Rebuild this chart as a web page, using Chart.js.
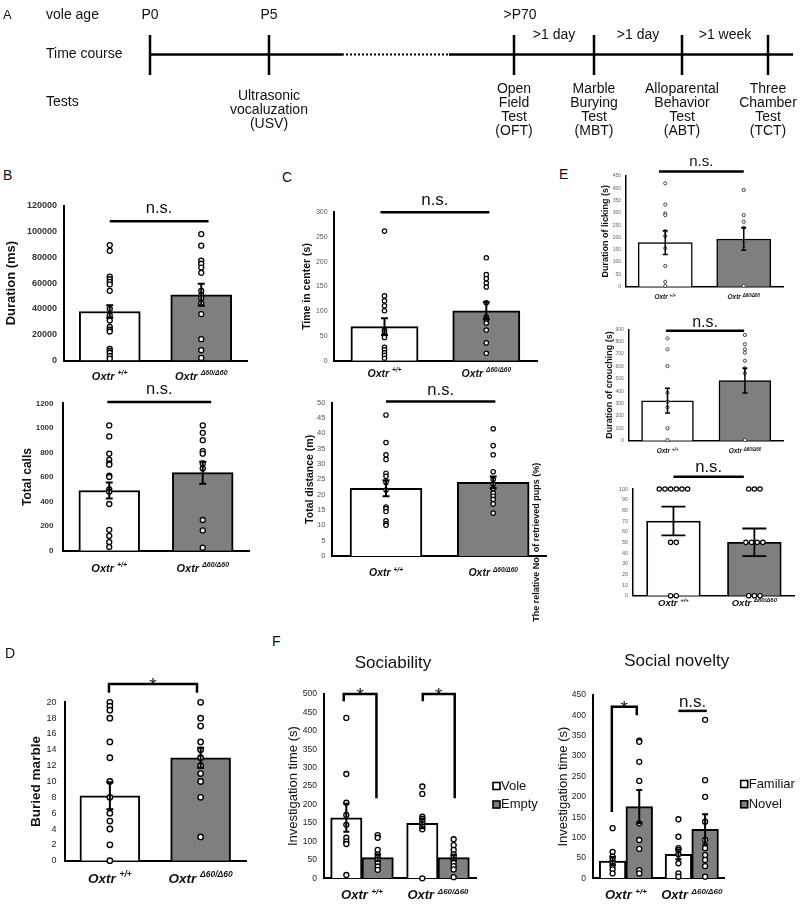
<!DOCTYPE html>
<html lang="en">
<head>
<meta charset="utf-8">
<title>Oxtr vole behaviour tests</title>
<script src="https://cdn.jsdelivr.net/npm/chart.js@4.4.1/dist/chart.umd.min.js"></script>
<style>
  body { margin: 0; background: #fff; }
  #page { position: relative; width: 800px; height: 906px; overflow: hidden;
          font-family: "Liberation Sans", Arial, sans-serif; color: #111; }
  #page canvas { position: absolute; }
  .panel { position: absolute; font-size: 14px; line-height: 14px; }
</style>
</head>
<body>
<div id="page">
  <canvas id="timeline"></canvas>
  <canvas id="bDur"></canvas>
  <canvas id="bCalls"></canvas>
  <canvas id="cCenter"></canvas>
  <canvas id="cDist"></canvas>
  <canvas id="eLick"></canvas>
  <canvas id="eCrouch"></canvas>
  <canvas id="ePups"></canvas>
  <canvas id="dMarble"></canvas>
  <canvas id="fSoc"></canvas>
  <canvas id="fNov"></canvas>
  <div class="panel" style="left:3px;top:8px;font-size:13px;line-height:13px">A</div>
  <div class="panel" style="left:3px;top:168px">B</div>
  <div class="panel" style="left:282px;top:170px">C</div>
  <div class="panel" style="left:559px;top:167px">E</div>
  <div class="panel" style="left:5px;top:646px">D</div>
  <div class="panel" style="left:272px;top:634px">F</div>
</div>
<script>
// ---------- data ----------
const groups = ['+/+', 'Δ60/Δ60'];   // Oxtr genotypes

// A: time course of the tests
const rowNames = ['vole age', 'Time course', 'Tests'];
const stageAge = ['P0', 'P5', '>P70', '', '', ''];
const stageGap = ['', '', '', '>1 day', '>1 day', '>1 week'];
const stageTests = [
  [],
  ['Ultrasonic', 'vocaluzation', '(USV)'],
  ['Open', 'Field', 'Test', '(OFT)'],
  ['Marble', 'Burying', 'Test', '(MBT)'],
  ['Alloparental', 'Behavior', 'Test', '(ABT)'],
  ['Three', 'Chamber', 'Test', '(TCT)']
];
const stagePos = [150, 269, 514, 594, 682, 768];
const axisBreak = [342, 449];
const axisEnd = 793;

// B: USV
const durMean = [38000, 51000];
const durSem = [4800, 8500];
const durWT = [89500, 85000, 65000, 63000, 61000, 59000, 54000, 40000, 35000, 31000, 26000, 24000, 22500, 9000, 7500, 6000, 3500, 1500];
const durKO = [98000, 89000, 77500, 75000, 72000, 68000, 54000, 50500, 48500, 44500, 36000, 16500, 8000, 2000];
const callsMean = [490, 635];
const callsSem = [65, 90];
const callsWT = [1020, 930, 790, 740, 710, 700, 610, 600, 500, 480, 380, 170, 120, 70, 30];
const callsKO = [1020, 960, 900, 810, 790, 710, 670, 250, 165, 25];

// C: open field
const centerMean = [69, 101];
const centerSem = [17, 17];
const centerWT = [262, 131, 121, 111, 101, 62, 58, 52, 47, 27, 22, 16, 11, 5];
const centerKO = [208, 174, 166, 157, 149, 117, 88, 84, 76, 62, 36, 15];
const distMean = [22.1, 24.0];
const distSem = [2.6, 1.9];
const distWT = [46, 37, 33, 31.5, 27, 26, 24, 21.5, 16, 15.5, 14.5, 11.5, 10.5, 10];
const distKO = [41.5, 36, 33, 27.5, 25, 23.5, 22, 20.5, 19.5, 18.5, 17, 14];

// E: alloparental behaviour
const lickMean = [179, 194];
const lickSem = [48, 46];
const lickWT = [420, 334, 298, 291, 226, 206, 156, 84, 20, 3];
const lickKO = [393, 291, 264, 240, 186, 156, 3];
const crouchMean = [323, 485];
const crouchSem = [100, 100];
const crouchWT = [827, 738, 603, 388, 315, 270, 100, 5];
const crouchKO = [854, 779, 738, 711, 646, 585, 544, 5];
const pupsMean = [70, 50];
const pupsSem = [13.4, 13];
const pupsWT = [100, 100, 100, 100, 100, 100, 50, 50, 0, 0];
const pupsKO = [100, 100, 100, 50, 50, 50, 50, 0, 0, 0];

// D: marble burying
const marbleMean = [8.2, 13.0];
const marbleSem = [1.7, 1.25];
const marbleWT = [20, 19.5, 19, 18, 15, 13, 10, 8, 6, 5, 4, 2, 0];
const marbleKO = [20, 18, 17, 15, 14, 13, 12, 11, 10, 8, 3];

// F: three chamber test
const voleMean = [164, 149];
const voleSem = [38, 13];
const voleWT = [435, 283, 205, 172, 145, 110, 100, 93, 9];
const voleKO = [249, 229, 167, 161, 154, 147, 140, 133, 0];
const emptyMean = [56, 56];
const emptySem = [9, 7];
const emptyWT = [117, 110, 77, 65, 57, 50, 41, 32, 23];
const emptyKO = [106, 90, 77, 65, 59, 50, 42, 33, 24, 3];
const famMean = [42.5, 59];
const famSem = [10, 12];
const famWT = [123, 65, 53, 45, 38, 30, 22, 12];
const famKO = [145, 102, 74, 70, 59, 37, 12, 4];
const novelMean = [176, 120];
const novelSem = [41, 37];
const novelWT = [338, 335, 286, 239, 135, 94, 72, 20, 12];
const novelKO = [389, 241, 200, 139, 94, 74, 57, 45, 30, 4];

// ---------- drawing ----------
const FONT = '"Liberation Sans", Arial, Helvetica, sans-serif';
const WHITE = '#ffffff';
const GRAY = '#7f7f7f';
Chart.defaults.font.family = FONT;
Chart.defaults.color = '#222';

// timeline of panel A
function drawTimeline() {
    const c = document.getElementById('timeline');
    c.style.left = '0px';
    c.style.top = '0px';
    c.width = 800;
    c.height = 140;
    const lineY = 54.5, tickTop = 35, tickBottom = 75;
    const solid = { borderColor: '#000', borderWidth: 2.5, pointRadius: 0, showLine: true };
    const datasets = [
        { ...solid, data: [{ x: stagePos[0], y: lineY }, { x: axisBreak[0], y: lineY }] },
        { ...solid, borderWidth: 2, borderDash: [2, 2], data: [{ x: axisBreak[0], y: lineY }, { x: axisBreak[1], y: lineY }] },
        { ...solid, data: [{ x: axisBreak[1], y: lineY }, { x: axisEnd, y: lineY }] }
    ].concat(stagePos.map(p => ({ ...solid, data: [{ x: p, y: tickTop }, { x: p, y: tickBottom }] })));

    new Chart(c, {
        type: 'scatter',
        data: { datasets },
        options: {
            responsive: false,
            animation: false,
            plugins: { legend: { display: false }, tooltip: { enabled: false } },
            scales: {
                x: { display: false, min: 0, max: 800 },
                y: { display: false, min: 0, max: 140, reverse: true }
            }
        },
        plugins: [{
            id: 'timelineText',
            afterDraw(chart) {
                const { ctx, scales: { x, y } } = chart;
                ctx.save();
                ctx.fillStyle = '#111';
                ctx.font = '14px ' + FONT;
                ctx.textBaseline = 'middle';
                ctx.textAlign = 'left';
                [15, lineY, 102].forEach((row, i) => ctx.fillText(rowNames[i], x.getPixelForValue(46), y.getPixelForValue(row)));
                ctx.textAlign = 'center';
                stagePos.forEach((p, i) => {
                    const px = x.getPixelForValue(p);
                    if (stageAge[i]) ctx.fillText(stageAge[i], px + (i === 2 ? 6 : 0), y.getPixelForValue(15));
                    if (stageGap[i]) ctx.fillText(stageGap[i], x.getPixelForValue((p + stagePos[i - 1]) / 2), y.getPixelForValue(35));
                    const lines = stageTests[i];
                    lines.forEach((t, k) => ctx.fillText(t, px, y.getPixelForValue(110 + (k - (lines.length - 1) / 2) * 14)));
                });
                ctx.restore();
            }
        }]
    });
}

// individual animals; equal values are spread sideways
function pointData(lists, off, spread) {
    const out = [];
    lists.forEach((vals, g) => {
        const count = {};
        vals.forEach(v => { count[v] = (count[v] || 0) + 1; });
        const seen = {};
        vals.forEach(v => {
            const k = seen[v] = (seen[v] === undefined ? 0 : seen[v] + 1);
            out.push({ x: g + off + (k - (count[v] - 1) / 2) * spread, y: v });
        });
    });
    return out;
}

function drawGenotype(ctx, cx, base, size, supSize, sup) {
    ctx.font = `italic bold ${size}px ${FONT}`;
    const w1 = ctx.measureText('Oxtr ').width;
    ctx.font = `italic bold ${supSize}px ${FONT}`;
    const w2 = ctx.measureText(sup).width;
    const left = cx - (w1 + w2) / 2;
    ctx.textAlign = 'left';
    ctx.textBaseline = 'alphabetic';
    ctx.font = `italic bold ${size}px ${FONT}`;
    ctx.fillText('Oxtr ', left, base);
    ctx.font = `italic bold ${supSize}px ${FONT}`;
    ctx.fillText(sup, left + w1, base - size * 0.42);
}

// error bars, significance marks, genotype labels, heading and legend
function decor(o, L, T) {
    return {
        id: 'decor_' + o.id,
        afterDatasetsDraw(chart) {
            const { ctx, scales: { y } } = chart;
            ctx.save();
            ctx.strokeStyle = '#000';
            ctx.lineWidth = o.errW;
            o.series.forEach((s, i) => {
                const meta = chart.getDatasetMeta(i);
                s.mean.forEach((m, g) => {
                    const x = meta.data[g].x;
                    const y1 = y.getPixelForValue(m + s.sem[g]);
                    const y2 = y.getPixelForValue(m - s.sem[g]);
                    ctx.beginPath();
                    ctx.moveTo(x, y1); ctx.lineTo(x, y2);
                    ctx.moveTo(x - o.capW / 2, y1); ctx.lineTo(x + o.capW / 2, y1);
                    ctx.moveTo(x - o.capW / 2, y2); ctx.lineTo(x + o.capW / 2, y2);
                    ctx.stroke();
                });
            });
            ctx.restore();
        },
        afterDraw(chart) {
            const { ctx, chartArea, scales: { x, y } } = chart;
            ctx.save();
            ctx.fillStyle = '#111';
            ctx.strokeStyle = '#000';
            ctx.lineJoin = 'miter';
            (o.marks || []).forEach(m => {
                const xa = x.getPixelForValue(m.x[0]), xb = x.getPixelForValue(m.x[1]);
                const yy = y.getPixelForValue(m.y);
                ctx.lineWidth = o.markW;
                ctx.beginPath();
                if (m.legs) {
                    ctx.moveTo(xa, y.getPixelForValue(m.legs[0]));
                    ctx.lineTo(xa, yy);
                    ctx.lineTo(xb, yy);
                    ctx.lineTo(xb, y.getPixelForValue(m.legs[1]));
                } else {
                    ctx.moveTo(xa, yy);
                    ctx.lineTo(xb, yy);
                }
                ctx.stroke();
                ctx.font = m.size + 'px ' + FONT;
                ctx.textAlign = 'center';
                ctx.textBaseline = 'alphabetic';
                ctx.fillText(m.text, (xa + xb) / 2, yy + m.dy);
            });
            groups.forEach((sup, g) => drawGenotype(ctx, x.getPixelForValue(g), chartArea.bottom + o.xl[2], o.xl[0], o.xl[1], sup));
            if (o.heading) {
                ctx.font = '17px ' + FONT;
                ctx.textAlign = 'center';
                ctx.textBaseline = 'middle';
                ctx.fillText(o.heading.text, o.heading.x - L, o.heading.y - T);
            }
            if (o.legend) {
                const bs = 7;
                o.series.forEach((s, i) => {
                    const lx = o.legend.x - L, ly = o.legend.y[i] - T;
                    ctx.fillStyle = s.fill;
                    ctx.fillRect(lx, ly - bs / 2, bs, bs);
                    ctx.lineWidth = 1.6;
                    ctx.strokeRect(lx, ly - bs / 2, bs, bs);
                    ctx.fillStyle = '#111';
                    ctx.font = '13px ' + FONT;
                    ctx.textAlign = 'left';
                    ctx.textBaseline = 'middle';
                    ctx.fillText(s.label, lx + bs + 1, ly);
                });
            }
            ctx.restore();
        }
    };
}

// one bar panel: bars = group means, circles = animals, error bars = SEM
function barPanel(o) {
    const c = document.getElementById(o.id);
    const [L, T, R, B] = o.canvas;
    const [x0, x1, top, bottom] = o.plot;
    c.style.left = L + 'px';
    c.style.top = T + 'px';
    c.width = R - L;
    c.height = B - T;
    const padL = x0 - L, padR = R - x1, padT = top - T, padB = B - bottom;
    const n = o.series.length;
    const groupW = (x1 - x0) / 2;
    const thick = n > 1 ? groupW * o.catPct / n : groupW * o.barPct;
    const offs = o.series.map((s, i) => n > 1 ? (i - (n - 1) / 2) * o.catPct / n : 0);

    const bars = o.series.map((s, i) => ({
        type: 'bar', label: s.label,
        data: s.mean.map((m, g) => ({ x: g + offs[i], y: m })),
        backgroundColor: s.fill, borderColor: '#000', borderWidth: o.barW,
        barThickness: thick, grouped: false, order: 2
    }));
    const dots = o.series.map((s, i) => ({
        type: 'scatter', data: pointData(s.pts, offs[i], o.spread || 0), clip: false,
        pointRadius: o.dot[0], pointBorderWidth: o.dot[1], pointBorderColor: o.dot[2] || '#000',
        pointBackgroundColor: '#fff', order: 1
    }));
    const lh = o.titleFont.size * 1.2;

    new Chart(c, {
        type: 'scatter',
        data: { datasets: bars.concat(dots) },
        options: {
            responsive: false,
            animation: false,
            layout: { padding: { left: 0, top: padT, right: padR, bottom: 0 } },
            plugins: { legend: { display: false }, tooltip: { enabled: false } },
            scales: {
                x: {
                    type: 'linear', min: -0.5, max: 1.5, offset: false,
                    grid: { display: false, drawTicks: false },
                    border: { color: '#000', width: o.axisW },
                    ticks: { display: false },
                    afterFit(s) { s.height = padB; }
                },
                y: {
                    type: 'linear', min: 0, max: o.yMax,
                    grid: { display: false, drawTicks: false },
                    border: { color: '#000', width: o.axisW },
                    ticks: {
                        stepSize: o.yStep, autoSkip: false, padding: o.tickPad,
                        color: o.tickColor, font: o.tickFont, callback: v => String(v)
                    },
                    title: {
                        display: true, text: o.title, color: '#111', font: o.titleFont,
                        padding: { top: o.titleX - L - lh / 2, bottom: 0 }
                    },
                    afterFit(s) { s.width = padL; }
                }
            }
        },
        plugins: [decor(o, L, T)]
    });
}

drawTimeline();

// B
barPanel({
    id: 'bDur', canvas: [2, 190, 262, 390], plot: [64, 247, 205.7, 360.5],
    yMax: 120000, yStep: 20000, tickFont: { size: 9, weight: 'bold' }, tickColor: '#333', tickPad: 7,
    title: 'Duration (ms)', titleFont: { size: 13, weight: 'bold' }, titleX: 11,
    barPct: 0.667, barW: 2, axisW: 2, errW: 2, capW: 7, markW: 2.5, dot: [2.5, 1.3],
    xl: [11, 7, 19],
    series: [{ label: 'Duration', mean: durMean, sem: durSem, pts: [durWT, durKO], fill: [WHITE, GRAY] }],
    marks: [{ x: [0, 1.08], y: 108000, text: 'n.s.', size: 16.5, dy: -7.7 }]
});
barPanel({
    id: 'bCalls', canvas: [20, 375, 262, 580], plot: [62.5, 249.5, 403.3, 550.7],
    yMax: 1200, yStep: 200, tickFont: { size: 8, weight: 'bold' }, tickColor: '#333', tickPad: 9,
    title: 'Total calls', titleFont: { size: 12, weight: 'bold' }, titleX: 28,
    barPct: 0.65, barW: 2, axisW: 2, errW: 2, capW: 7, markW: 2.5, dot: [2.5, 1.3],
    xl: [11, 7, 21],
    series: [{ label: 'Total calls', mean: callsMean, sem: callsSem, pts: [callsWT, callsKO], fill: [WHITE, GRAY] }],
    marks: [{ x: [-0.02, 1.09], y: 1210, text: 'n.s.', size: 16.5, dy: -7.7 }]
});

// C
barPanel({
    id: 'cCenter', canvas: [299, 185, 545, 385], plot: [333.6, 537.2, 212.3, 360.7],
    yMax: 300, yStep: 50, tickFont: { size: 7 }, tickColor: '#555', tickPad: 6,
    title: 'Time in center (s)', titleFont: { size: 10.5, weight: 'bold' }, titleX: 306.7,
    barPct: 0.66, barW: 2, axisW: 2, errW: 2, capW: 7, markW: 2.5, dot: [2.2, 1.2],
    xl: [10.5, 6.5, 16],
    series: [{ label: 'Time in center', mean: centerMean, sem: centerSem, pts: [centerWT, centerKO], fill: [WHITE, GRAY] }],
    marks: [{ x: [-0.04, 1.03], y: 300, text: 'n.s.', size: 17, dy: -7.3 }]
});
barPanel({
    id: 'cDist', canvas: [302, 375, 552, 585], plot: [332.4, 547, 402.7, 556],
    yMax: 50, yStep: 5, tickFont: { size: 7.5 }, tickColor: '#555', tickPad: 7,
    title: 'Total distance (m)', titleFont: { size: 10.5, weight: 'bold' }, titleX: 310,
    barPct: 0.67, barW: 2, axisW: 2, errW: 2, capW: 7, markW: 2.5, dot: [2.2, 1.2],
    xl: [10.5, 6.5, 20],
    series: [{ label: 'Total distance', mean: distMean, sem: distSem, pts: [distWT, distKO], fill: [WHITE, GRAY] }],
    marks: [{ x: [0, 1.02], y: 50.4, text: 'n.s.', size: 16.5, dy: -6.7 }]
});

// E
barPanel({
    id: 'eLick', canvas: [600, 145, 795, 305], plot: [626, 783, 176, 286.7],
    yMax: 450, yStep: 50, tickFont: { size: 5 }, tickColor: '#666', tickPad: 5,
    title: 'Duration of licking (s)', titleFont: { size: 9, weight: 'bold' }, titleX: 606,
    barPct: 0.69, barW: 1.5, axisW: 1.5, errW: 1.5, capW: 5, markW: 2.5, dot: [1.6, 1, '#444'],
    xl: [6.5, 4.5, 12.6],
    series: [{ label: 'Licking', mean: lickMean, sem: lickSem, pts: [lickWT, lickKO], fill: [WHITE, GRAY] }],
    marks: [{ x: [-0.08, 1.0], y: 468, text: 'n.s.', size: 15, dy: -6 }]
});
barPanel({
    id: 'eCrouch', canvas: [603, 305, 795, 458], plot: [628.8, 783.6, 329.3, 440.7],
    yMax: 900, yStep: 100, tickFont: { size: 5 }, tickColor: '#666', tickPad: 5,
    title: 'Duration of crouching (s)', titleFont: { size: 9, weight: 'bold' }, titleX: 609.3,
    barPct: 0.67, barW: 1.5, axisW: 1.5, errW: 1.5, capW: 5, markW: 2.5, dot: [1.6, 1, '#444'],
    xl: [6.5, 4.5, 12.6],
    series: [{ label: 'Crouching', mean: crouchMean, sem: crouchSem, pts: [crouchWT, crouchKO], fill: [WHITE, GRAY] }],
    marks: [{ x: [-0.02, 0.99], y: 889, text: 'n.s.', size: 16, dy: -4 }]
});
barPanel({
    id: 'ePups', canvas: [531, 450, 800, 625], plot: [633, 796, 489, 595.7],
    yMax: 100, yStep: 10, tickFont: { size: 5.5 }, tickColor: '#666', tickPad: 5,
    title: 'The relative No. of retrieved pups (%)', titleFont: { size: 9, weight: 'bold' }, titleX: 537,
    barPct: 0.66, barW: 1.8, axisW: 1.5, errW: 1.8, capW: 24, markW: 2.5, dot: [2.2, 1.2], spread: 0.07,
    xl: [9.5, 6, 10],
    series: [{ label: 'Retrieved pups', mean: pupsMean, sem: pupsSem, pts: [pupsWT, pupsKO], fill: [WHITE, GRAY] }],
    marks: [{ x: [0, 0.87], y: 111.5, text: 'n.s.', size: 16.7, dy: -5 }]
});

// D
barPanel({
    id: 'dMarble', canvas: [27, 665, 262, 895], plot: [64.5, 246, 702.3, 860.7],
    yMax: 20, yStep: 2, tickFont: { size: 9 }, tickColor: '#222', tickPad: 8,
    title: 'Buried marble', titleFont: { size: 13.5, weight: 'bold' }, titleX: 36.7,
    barPct: 0.66, barW: 2, axisW: 2, errW: 2, capW: 7, markW: 2.5, dot: [2.7, 1.4],
    xl: [13.5, 8.5, 22],
    series: [{ label: 'Buried marble', mean: marbleMean, sem: marbleSem, pts: [marbleWT, marbleKO], fill: [WHITE, GRAY] }],
    marks: [{ x: [-0.01, 0.96], y: 22.3, legs: [21.2, 21.2], text: '*', size: 19, dy: 6.6 }]
});

// F
barPanel({
    id: 'fSoc', canvas: [284, 645, 545, 906], plot: [324, 476, 694, 878.3],
    yMax: 500, yStep: 50, tickFont: { size: 8.5 }, tickColor: '#222', tickPad: 7,
    title: 'Investigation time (s)', titleFont: { size: 13 }, titleX: 293.3,
    catPct: 0.825, barW: 2, axisW: 2, errW: 2, capW: 6, markW: 2.5, dot: [2.5, 1.3],
    xl: [13, 8, 21],
    series: [
        { label: 'Vole', mean: voleMean, sem: voleSem, pts: [voleWT, voleKO], fill: WHITE },
        { label: 'Empty', mean: emptyMean, sem: emptySem, pts: [emptyWT, emptyKO], fill: GRAY }
    ],
    marks: [
        { x: [-0.24, 0.19], y: 500, legs: [480, 217], text: '*', size: 19, dy: 7 },
        { x: [0.80, 1.22], y: 500, legs: [480, 217], text: '*', size: 19, dy: 7 }
    ],
    heading: { text: 'Sociability', x: 393, y: 663 },
    legend: { x: 493, y: [786, 804.5] }
});
barPanel({
    id: 'fNov', canvas: [554, 645, 800, 906], plot: [593, 724.7, 695, 878.3],
    yMax: 450, yStep: 50, tickFont: { size: 8.5 }, tickColor: '#222', tickPad: 7,
    title: 'Investigation time (s)', titleFont: { size: 13 }, titleX: 563,
    catPct: 0.81, barW: 2, axisW: 2, errW: 2, capW: 6, markW: 2.5, dot: [2.5, 1.3],
    xl: [13, 8, 21],
    series: [
        { label: 'Familiar', mean: famMean, sem: famSem, pts: [famWT, famKO], fill: WHITE },
        { label: 'Novel', mean: novelMean, sem: novelSem, pts: [novelWT, novelKO], fill: GRAY }
    ],
    marks: [
        { x: [-0.214, 0.165], y: 421, legs: [163, 400], text: '*', size: 19, dy: 7 },
        { x: [0.797, 1.228], y: 411, text: 'n.s.', size: 17, dy: -4 }
    ],
    heading: { text: 'Social novelty', x: 676.7, y: 661.7 },
    legend: { x: 740.7, y: [784, 804.3] }
});
</script>
</body>
</html>
